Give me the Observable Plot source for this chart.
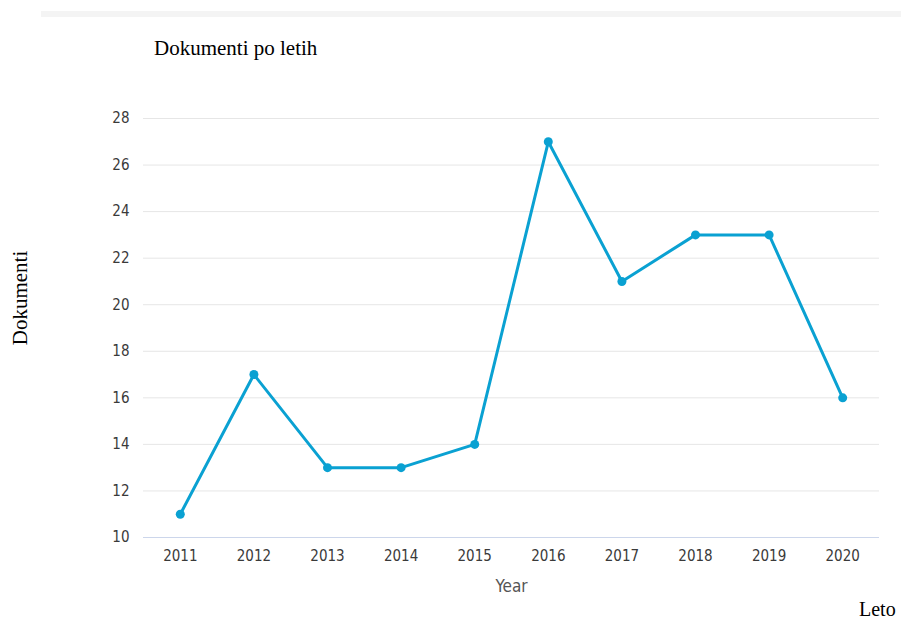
<!DOCTYPE html>
<html>
<head>
<meta charset="utf-8">
<script src="https://cdn.jsdelivr.net/npm/d3@7"></script>
<script src="https://cdn.jsdelivr.net/npm/@observablehq/plot@0.6"></script>
<style>
  html, body { margin: 0; padding: 0; background: #fff; }
  #wrap { position: relative; width: 901px; height: 621px; overflow: hidden; }
  #bar { position: absolute; left: 41px; top: 11px; width: 860px; height: 6px; background: #f4f4f4; }
  .serif { position: absolute; font-family: "Liberation Serif", "Times New Roman", serif; font-size: 21px; color: #000; white-space: nowrap; line-height: 1; }
  #title { left: 154px; top: 38px; }
  #ylab { left: 20px; top: 298px; transform: translate(-50%, -50%) rotate(-90deg); }
  #xlab { left: 859px; top: 599px; font-size: 20px; }
  #chart { position: absolute; left: 0; top: 0; }
</style>
</head>
<body>
<div id="wrap">
  <div id="chart"></div>
  <div id="bar"></div>
  <div class="serif" id="title">Dokumenti po letih</div>
  <div class="serif" id="ylab">Dokumenti</div>
  <div class="serif" id="xlab">Leto</div>
</div>
<script>
const years = ["2011","2012","2013","2014","2015","2016","2017","2018","2019","2020"];
const documents = [11, 17, 13, 13, 14, 27, 21, 23, 23, 16];
const yTicks = [10, 12, 14, 16, 18, 20, 22, 24, 26, 28];
const xAxisTitle = "Year";

const data = years.map((y, i) => ({year: y, value: documents[i]}));
const lineColor = "#0aa1d2";
const font = "'DejaVu Sans Condensed', 'DejaVu Sans', sans-serif";

const chart = Plot.plot({
  width: 901,
  height: 621,
  marginLeft: 143,
  marginRight: 22,
  marginTop: 118,
  marginBottom: 84,
  style: {fontFamily: font, fontSize: "15px", fontStretch: "condensed", color: "#3a3a3a", background: "transparent"},
  x: {type: "point", domain: years, padding: 0.5, round: false},
  y: {domain: [10, 28]},
  marks: [
    Plot.gridY(yTicks.slice(1), {stroke: "#e6e6e6", strokeOpacity: 1, strokeWidth: 1}),
    Plot.ruleY([10], {stroke: "#ccd6eb", strokeWidth: 1}),
    Plot.axisY(yTicks, {tickSize: 0, tickPadding: 14, label: null, fill: "#3a3a3a"}),
    Plot.axisX(years, {tickSize: 0, tickPadding: 13, label: null, fill: "#3a3a3a"}),
    Plot.lineY(data, {x: "year", y: "value", stroke: lineColor, strokeWidth: 3}),
    Plot.dot(data, {x: "year", y: "value", r: 4.5, fill: lineColor, stroke: "none"}),
    Plot.text([xAxisTitle], {frameAnchor: "bottom", dy: 54, text: d => d, fontSize: 17, fill: "#555"})
  ]
});
document.getElementById("chart").appendChild(chart);
</script>
</body>
</html>
